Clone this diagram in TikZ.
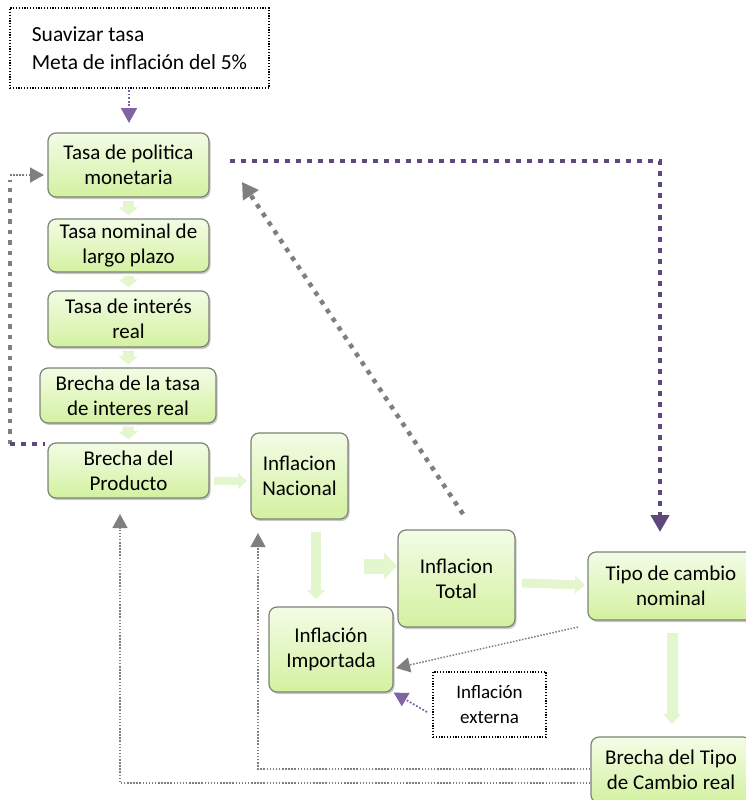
\documentclass[tikz,border=0pt]{standalone}
\usepackage{fontspec}
\setmainfont{Carlito}
\usetikzlibrary{arrows.meta,shadows,calc}
\definecolor{boxtop}{HTML}{F3FCE6}
\definecolor{boxbot}{HTML}{D3F1A0}
\definecolor{boxline}{HTML}{7C8274}
\definecolor{darkpurple}{HTML}{5F497A}
\definecolor{lightpurple}{HTML}{8064A2}
\definecolor{arrgray}{HTML}{7F7F7F}
\definecolor{blockgreen}{HTML}{E4F6CE}
\tikzset{
  gbox/.style={draw=boxline, line width=1.2pt, rounded corners=8pt,
    top color=boxtop, bottom color=boxbot, align=center, inner sep=0pt,
    font=\fontsize{21}{25}\selectfont,
    drop shadow={shadow xshift=1.5pt, shadow yshift=-2pt, opacity=0.3, fill=black!70}},
  notebox/.style={draw=black, line width=1.2pt, dash pattern=on 1.2pt off 1.6pt, inner sep=0pt},
  barrow/.style={blockgreen, line width=11pt, -{Triangle[length=8pt,width=19pt]}},
  pthick/.style={darkpurple, line width=4.5pt, dash pattern=on 4.5pt off 6.5pt},
  gthick/.style={arrgray, line width=4.5pt, dash pattern=on 4.5pt off 6pt},
  gfine/.style={arrgray, line width=1.5pt, dash pattern=on 1.5pt off 1.6pt},
  pfine/.style={lightpurple, line width=1.8pt, dash pattern=on 1.8pt off 1.8pt},
  bigtip/.style={-{Triangle[length=16pt,width=18pt]}},
  smalltip/.style={-{Triangle[length=14pt,width=15pt]}}
}
\begin{document}
\begin{tikzpicture}[x=1pt,y=-1pt]
\path[use as bounding box, clip] (0,0) rectangle (746,800);

% nodes
\node[notebox, minimum width=259pt, minimum height=80pt,
  align=left, font=\fontsize{21.5}{28.5}\selectfont] (sv) at (139.5,48) {Suavizar tasa\\Meta de inflación del 5\%};
\node[gbox, minimum width=161pt, minimum height=64pt] (tp) at (128.5,165) {Tasa de politica\\monetaria};
\node[gbox, minimum width=161pt, minimum height=53pt] (tn) at (128.5,245.5) {Tasa nominal de\\largo plazo};
\node[gbox, minimum width=161pt, minimum height=56pt] (ti) at (128.5,319) {Tasa de interés\\real};
\node[gbox, minimum width=176pt, minimum height=55pt] (tb) at (128,395.5) {Brecha de la tasa\\de interes real};
\node[gbox, minimum width=161pt, minimum height=55pt] (bp) at (128.5,470.5) {Brecha del\\Producto};
\node[gbox, minimum width=97pt, minimum height=86pt] (in) at (299.5,476) {Inflacion\\Nacional};
\node[gbox, minimum width=117pt, minimum height=97pt] (it) at (456.5,578.5) {Inflacion\\Total};
\node[gbox, minimum width=124pt, minimum height=85pt] (ii) at (331,649.5) {Inflación\\Importada};
\node[gbox, minimum width=166pt, minimum height=68pt] (tc) at (671,586) {Tipo de cambio\\nominal};
\node[gbox, minimum width=160pt, minimum height=66pt] (bt) at (671,770) {Brecha del Tipo\\de Cambio real};
\node[notebox, minimum width=113pt, minimum height=65pt, align=center,
  font=\fontsize{19}{25}\selectfont] (ie) at (489.5,704.5) {Inflación\\externa};

% block arrows
\draw[barrow, shorten <=3pt, shorten >=3pt] (tp.south) -- (tn.north);
\draw[barrow, shorten <=3pt, shorten >=3pt] (tn.south) -- (ti.north);
\draw[barrow, shorten <=3pt, shorten >=3pt] (ti.south) -- (tb.north);
\draw[barrow, shorten <=3pt, shorten >=3pt] (tb.south) -- (bp.north);
\coordinate (a1) at (214,481); \coordinate (a2) at (247,481);
\draw[barrow, line width=8pt, -{Triangle[length=9pt,width=16pt]}] (a1) -- (a2);
\coordinate (a3) at (316,532); \coordinate (a4) at (316,599);
\draw[barrow, line width=10pt, -{Triangle[length=9pt,width=18pt]}] (a3) -- (a4);
\coordinate (a5) at (364,566); \coordinate (a6) at (397,566);
\draw[barrow, line width=15pt, -{Triangle[length=13pt,width=26pt]}] (a5) -- (a6);
\coordinate (a7) at (522,583); \coordinate (a8) at (585,585);
\draw[barrow, line width=9pt, -{Triangle[length=10pt,width=17pt]}] (a7) -- (a8);
\coordinate (a9) at (672,633); \coordinate (a10) at (672,724);
\draw[barrow, line width=11pt, -{Triangle[length=10pt,width=18pt]}] (a9) -- (a10);

% suavizar -> tasa
\coordinate (g1) at (129,90); \coordinate (g2) at (129,123);
\draw[pfine, -{Triangle[length=15pt,width=16pt]}] (g1) -- (g2);

% purple thick: tasa -> tipo de cambio
\coordinate (p1) at (230,161); \coordinate (p2) at (660,161); \coordinate (p3) at (660,532);
\draw[pthick, -{Triangle[length=17pt,width=18pt]}] (p1) -- (p2) -- (p3);

% gray thick diagonal: inflacion total -> tasa
\coordinate (q1) at (463,514); \coordinate (q2) at (242,182);
\draw[gthick, bigtip] (q1) -- (q2);

% left loop: brecha del producto -> tasa
\coordinate (L1) at (10,444); \coordinate (L2) at (10,180); \coordinate (L3) at (10,175);
\coordinate (L4) at (44,175); \coordinate (L5) at (45,444);
\draw[gthick] (L1) -- (L2);
\draw[gfine, smalltip] (L3) -- (L4);
\draw[pthick] (L1) -- (L5);

% tipo de cambio -> inflacion importada
\coordinate (e1) at (578,627); \coordinate (e2) at (396,668);
\draw[gfine, smalltip] (e1) -- (e2);

% inflacion externa -> importada
\coordinate (f1) at (427,712);
\draw[pfine, -{Triangle[length=14pt,width=15pt]}] (f1) -- (ii.south east);

% brecha tipo de cambio -> inflacion nacional / brecha producto
\coordinate (c2) at (258,769); \coordinate (c3) at (258,533);
\draw[gfine, smalltip] (bt.west |- c2) -- (c2) -- (c3);
\coordinate (d2) at (120,783); \coordinate (d3) at (120,514);
\draw[gfine, smalltip] (bt.west |- d2) -- (d2) -- (d3);
\end{tikzpicture}
\end{document}
